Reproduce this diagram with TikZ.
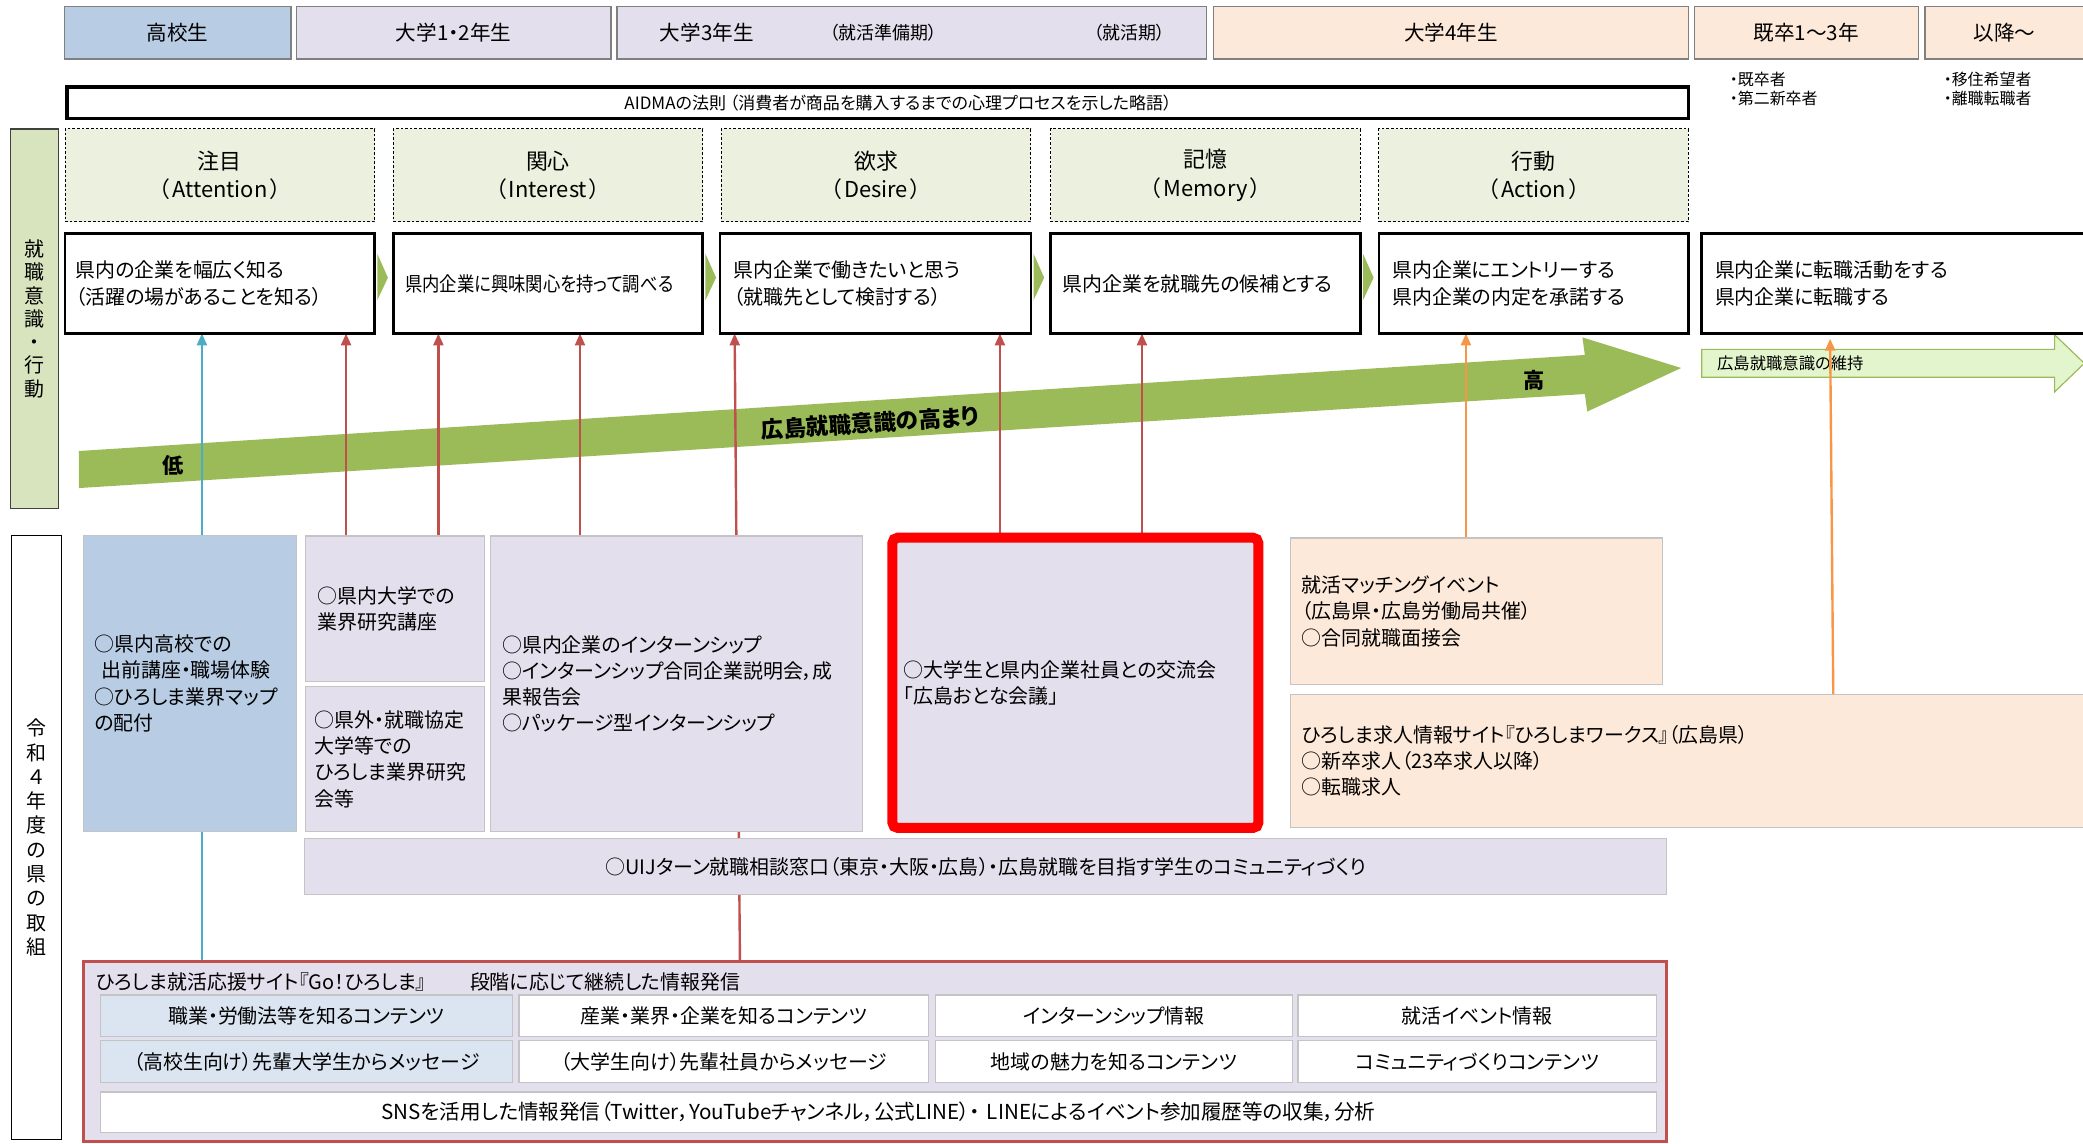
\documentclass[tikz,border=0pt]{standalone}
\usepackage{fontspec}
\usepackage{graphicx}
\setmainfont{Noto Sans CJK JP}[RawFeature=+palt]
\usetikzlibrary{arrows.meta,shadows}
\pgfdeclarelayer{bgl}
\pgfdeclarelayer{lnl}
\pgfsetlayers{bgl,lnl,main}
\definecolor{hsblue}{HTML}{B8CCE4}
\definecolor{lav}{HTML}{E4DFEC}
\definecolor{peach}{HTML}{FDE9D9}
\definecolor{lgreen}{HTML}{D7E4BD}
\definecolor{stagefill}{HTML}{EBF1DE}
\definecolor{agreen}{HTML}{9BBB59}
\definecolor{cyanl}{HTML}{4BACC6}
\definecolor{redl}{HTML}{C0504D}
\definecolor{orangel}{HTML}{F79646}
\definecolor{cellblue}{HTML}{DBE5F1}
\definecolor{hdrgray}{HTML}{808080}
\definecolor{lowgray}{HTML}{C4C4C4}
\definecolor{keepfill}{HTML}{E3F5CC}
\newcommand\fs[2]{\fontsize{#1}{#2}\selectfont}
\newcommand\tbox[8]{%
 \pgfmathsetmacro\bxw{#5-#3-2*#7}%
 \pgfmathsetmacro\bxh{#6-#4}%
 \node[anchor=north west, outer sep=0pt, inner ysep=0pt, inner xsep=#7pt, text width=\bxw pt, minimum height=\bxh pt, #2] (#1) at (#3,#4) {#8};}
\tikzset{
 hdr/.style={draw=hdrgray, line width=1pt, align=center, font=\fs{15.5}{18}},
 stage/.style={draw=black, line width=0.8pt, dash pattern=on 2pt off 1.5pt, fill=stagefill, align=center, font=\fs{16.5}{21.5}},
 act/.style={draw=black, line width=2pt, fill=white, align=left, font=\fs{15}{20.2}, drop shadow={shadow xshift=1.2pt, shadow yshift=-1.2pt, fill=black, opacity=0.35}},
 low/.style={draw=lowgray, line width=0.9pt, align=left, font=\fs{15}{19.8}},
 cell/.style={draw=lowgray, line width=0.9pt, fill=white, align=center, font=\fs{15}{16}},
 upline/.style={line width=1.8pt, -{Triangle[length=9pt,width=7.5pt]}},
 tri/.style={fill=agreen, draw=none}
}
\begin{document}
\begin{tikzpicture}[x=1pt,y=-1pt]
\useasboundingbox (0,0) rectangle (1568,861);

% header row
\tbox{h1}{hdr,fill=hsblue}{48.5}{5}{219}{44.5}{2}{高校生}
\tbox{h2}{hdr,fill=lav}{223}{5}{460}{44.5}{2}{大学1・2年生}
\tbox{h3}{hdr,fill=lav}{464.5}{5}{908}{44.5}{2}{}
\node[font=\fs{15.5}{18}] (h3a) at (532,24.5) {大学3年生};
\node[font=\fs{13.5}{16}] (h3b) at (665,24.5) {（就活準備期）};
\node[font=\fs{13.5}{16}] (h3c) at (850,24.5) {（就活期）};
\tbox{h4}{hdr,fill=peach}{913.5}{5}{1271}{44.5}{2}{大学4年生}
\tbox{h5}{hdr,fill=peach}{1275.5}{5}{1444}{44.5}{2}{既卒1〜3年}
\tbox{h6}{hdr,fill=peach}{1449}{5}{1580}{44.5}{2}{}
\node[font=\fs{15.5}{18}] (h6t) at (1509,24.5) {以降〜};

\node[anchor=west, align=left, inner sep=0pt, font=\fs{12}{14.5}] (n1) at (1302,67) {・既卒者\\・第二新卒者};
\node[anchor=west, align=left, inner sep=0pt, font=\fs{12}{14.5}] (n2) at (1463,67) {・移住希望者\\・離職転職者};

% AIDMA
\tbox{aidma}{draw=black, line width=2.5pt, fill=white}{50.5}{65.5}{1271}{89}{2}{}
\node[font=\fs{12.8}{15}] (aidmat) at (676,77.5) {AIDMAの法則 （消費者が商品を購入するまでの心理プロセスを示した略語）};

% left label 1
\tbox{lab1}{draw=black!75, line width=1pt, fill=lgreen, align=center, font=\fs{15}{17.5}}{8}{97}{44}{383}{0}{就\\職\\意\\識\\・\\行\\動}

% stages
\tbox{s1}{stage}{49}{97}{282}{167}{2}{注目\\（\hspace{0.12em}Attention\hspace{0.12em}）}
\tbox{s2}{stage}{296}{97}{529}{167}{2}{関心\\（\hspace{0.12em}Interest\hspace{0.12em}）}
\tbox{s3}{stage}{543}{97}{776}{167}{2}{欲求\\（\hspace{0.12em}Desire\hspace{0.12em}）}
\tbox{s4}{stage}{791}{97}{1024}{167}{2}{記憶\\（\hspace{0.12em}Memory\hspace{0.12em}）}
\tbox{s5}{stage}{1038}{97}{1271}{167}{2}{行動\\（\hspace{0.12em}Action\hspace{0.12em}）}

% action boxes
\tbox{b1}{act}{49}{176}{282}{251}{8}{県内の企業を幅広く知る\\（活躍の場があることを知る）}
\tbox{b2}{act}{296}{176}{529}{251}{9}{\scalebox{0.87}[1]{県内企業に興味関心を持って調べる}}
\tbox{b3}{act}{542}{176}{776}{251}{10}{県内企業で働きたいと思う\\（就職先として検討する）}
\tbox{b4}{act}{791}{176}{1024}{251}{9}{県内企業を就職先の候補とする}
\tbox{b5}{act}{1038}{176}{1271}{251}{10}{県内企業にエントリーする\\県内企業の内定を承諾する}
\tbox{b6}{act}{1281}{176}{1580}{251}{10}{県内企業に転職活動をする\\県内企業に転職する}

% small green triangles
\fill[tri] (284,191) -- (292,209) -- (284,226) -- cycle;
\fill[tri] (531,191) -- (539,209) -- (531,226) -- cycle;
\fill[tri] (778,191) -- (786,209) -- (778,226) -- cycle;
\fill[tri] (1026,191) -- (1034,209) -- (1026,226) -- cycle;

% big arrows (background)
\begin{pgfonlayer}{bgl}
\fill[agreen] (59.3,339.5) -- (1193,267.2) -- (1191.2,254) -- (1265.5,277) -- (1194.8,309.8) -- (1193,296.6) -- (59.3,367.4) -- cycle;
\node[font=\bfseries\fs{17}{20}, rotate=3.65] (rise) at (655,318.5) {広島就職意識の高まり};
\node[font=\bfseries\fs{16}{20}] (low) at (130,350) {低};
\node[font=\bfseries\fs{16}{20}] (high) at (1155,286) {高};
\filldraw[draw=agreen, fill=keepfill, line width=0.9pt] (1281,263) -- (1546.6,263) -- (1546.6,252) -- (1569,273.5) -- (1546.6,295) -- (1546.6,284) -- (1281,284) -- cycle;
\node[anchor=west, font=\fs{12.3}{14}] (keep) at (1289,273.5) {広島就職意識の維持};
\end{pgfonlayer}

% lower section
\tbox{lab2}{draw=black, line width=0.8pt, fill=white, align=center, font=\fs{15}{18.3}}{9}{403}{46}{858}{0}{令\\和\\４\\年\\度\\の\\県\\の\\取\\組}
\tbox{hs}{low,fill=hsblue}{63}{403}{223}{626}{8}{○県内高校での\\\hspace*{0.35em}出前講座・職場体験\\○ひろしま業界マップ\\の配付}
\tbox{la}{low,fill=lav}{230}{403.5}{364.5}{513}{9}{○県内大学での\\業界研究講座}
\tbox{lb}{low,fill=lav}{230}{517}{364.5}{626}{7}{○県外・就職協定\\大学等での\\ひろしま業界研究\\会等}
\tbox{lc}{low,fill=lav}{369.5}{403.5}{649.5}{626}{8.5}{○県内企業のインターンシップ\\○インターンシップ合同企業説明会，成\\果報告会\\○パッケージ型インターンシップ}
\tbox{rb}{draw=red, line width=7.5pt, rounded corners=4pt, fill=lav, align=left, font=\fs{15}{19.8}}{671.75}{404.75}{947.25}{623.25}{8.25}{○大学生と県内企業社員との交流会\\「広島おとな会議」}
\tbox{pd}{low,fill=peach}{971.5}{405}{1251.5}{515.5}{8.5}{就活マッチングイベント\\（広島県・広島労働局共催）\\○合同就職面接会}
\tbox{pe}{low,fill=peach}{971.5}{522.5}{1580}{623}{8.5}{ひろしま求人情報サイト『ひろしまワークス』（広島県）\\○新卒求人（23卒求人以降）\\○転職求人}
\tbox{uij}{low,fill=lav,align=center}{229.5}{631}{1254.5}{673.5}{2}{○UIJターン就職相談窓口（東京・大阪・広島）・広島就職を目指す学生のコミュニティづくり}

% Go! Hiroshima container
\tbox{go}{draw=redl, line width=2.3pt, fill=lav}{63}{723.5}{1254.5}{859}{2}{}
\node[anchor=west, inner sep=0pt, font=\fs{15}{16}] (got) at (72,739.5) {ひろしま就活応援サイト『Go！ひろしま』\hspace{2.2em}段階に応じて継続した情報発信};
\tbox{c11}{cell,fill=cellblue}{75.6}{749}{385.7}{780}{2}{職業・労働法等を知るコンテンツ}
\tbox{c12}{cell}{390.7}{749}{699}{780}{2}{産業・業界・企業を知るコンテンツ}
\tbox{c13}{cell}{704}{749}{973}{780}{2}{インターンシップ情報}
\tbox{c14}{cell}{977}{749}{1247}{780}{2}{就活イベント情報}
\tbox{c21}{cell,fill=cellblue}{75.6}{783.5}{385.7}{815}{2}{（高校生向け）先輩大学生からメッセージ}
\tbox{c22}{cell}{390.7}{783.5}{699}{815}{2}{（大学生向け）先輩社員からメッセージ}
\tbox{c23}{cell}{704}{783.5}{973}{815}{2}{地域の魅力を知るコンテンツ}
\tbox{c24}{cell}{977}{783.5}{1247}{815}{2}{コミュニティづくりコンテンツ}
\tbox{c3}{cell,font=\fs{15.5}{16}}{75.6}{822}{1247}{852.5}{2}{SNSを活用した情報発信（Twitter，YouTubeチャンネル，公式LINE）・ LINEによるイベント参加履歴等の収集，分析}

% connectors
\begin{pgfonlayer}{lnl}
\coordinate (xa) at (152,0);
\coordinate (xb) at (260.5,0);
\coordinate (xc) at (330,0);
\coordinate (xd) at (436.6,0);
\coordinate (xe1) at (557,0);
\coordinate (xe2) at (553,0);
\coordinate (xf) at (752.7,0);
\coordinate (xg) at (859.6,0);
\coordinate (xh) at (1103.5,0);
\coordinate (xi1) at (1380,0);
\coordinate (xi2) at (1377.6,0);
\draw[upline, cyanl] (go.north -| xa) -- (b1.south -| xa);
\draw[upline, redl] (la.north -| xb) -- (b1.south -| xb);
\draw[upline, redl] (la.north -| xc) -- (b2.south -| xc);
\draw[upline, redl] (lc.north -| xd) -- (b2.south -| xd);
\draw[upline, redl] (go.north -| xe1) -- (b3.south -| xe2);
\draw[upline, redl] (rb.north -| xf) -- (b3.south -| xf);
\draw[upline, redl] (rb.north -| xg) -- (b4.south -| xg);
\draw[upline, orangel] (pd.north -| xh) -- (b5.south -| xh);
\draw[upline, orangel, shorten >=4pt] (pe.north -| xi1) -- (b6.south -| xi2);
\end{pgfonlayer}
\end{tikzpicture}
\end{document}
